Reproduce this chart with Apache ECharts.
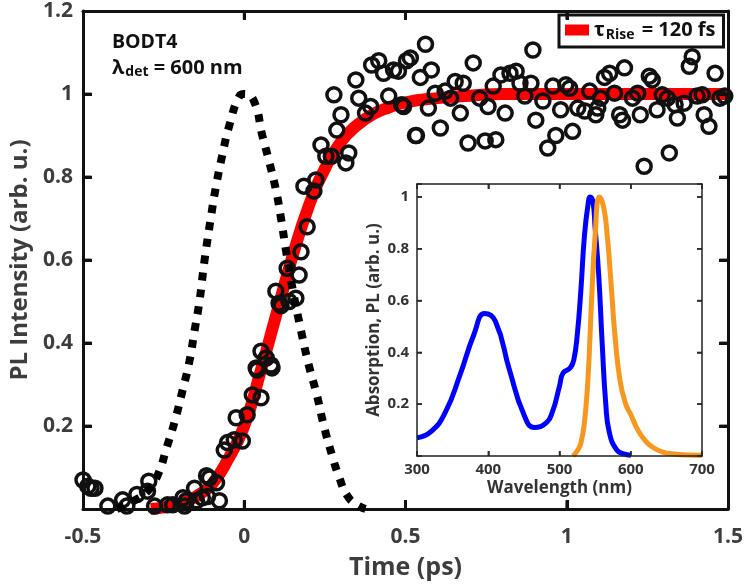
<!DOCTYPE html>
<html>
<head>
<meta charset="utf-8">
<script src="https://cdn.jsdelivr.net/npm/echarts@6/dist/echarts.min.js"></script>
<style>html,body{margin:0;padding:0;background:#fff;}#c{width:747px;height:585px;}</style>
</head>
<body>
<div id="c"></div>
<script>
// ---- main panel data ----
const timeTicks = [-0.5, 0, 0.5, 1, 1.5];
const intensityTicks = [0.2, 0.4, 0.6, 0.8, 1, 1.2];
const plPoints = [
  [-0.5,0.07],[-0.485,0.055],[-0.475,0.05],[-0.463,0.05],[-0.423,0.007],[-0.377,0.022],[-0.364,0.007],
  [-0.333,0.035],[-0.296,0.067],[-0.30,0.043],[-0.278,0.007],[-0.238,0.01],[-0.222,0.01],[-0.19,0.027],
  [-0.185,0.007],[-0.18,0.02],[-0.154,0.05],[-0.148,0.02],[-0.13,0.027],[-0.117,0.08],[-0.108,0.075],
  [-0.114,0.03],[-0.086,0.063],[-0.077,0.02],[-0.062,0.142],[-0.052,0.16],[-0.031,0.167],[-0.006,0.164],
  [-0.025,0.22],[0.009,0.227],[0.025,0.275],[0.052,0.268],
  [0.04,0.335],[0.037,0.34],[0.052,0.38],[0.068,0.364],[0.083,0.347],[0.086,0.34],[0.098,0.525],
  [0.108,0.496],[0.114,0.49],[0.139,0.5],[0.16,0.508],[0.133,0.58],[0.17,0.564],[0.176,0.62],
  [0.195,0.68],[0.185,0.778],[0.216,0.766],[0.222,0.793],[0.238,0.877],[0.253,0.85],[0.27,0.85],
  [0.324,0.858],[0.315,0.834],[0.287,0.913],[0.30,0.95],[0.278,0.998],[0.346,1.034],[0.355,0.99],
  [0.376,0.954],[0.392,0.97],[0.395,1.07],[0.417,1.08],[0.432,1.05],[0.448,0.995],[0.463,1.058],
  [0.478,1.055],[0.494,0.97],[0.503,1.08],[0.531,0.9],
  [0.562,1.12],[0.515,1.087],[0.58,1.058],[0.546,1.04],[0.488,0.974],[0.534,0.9],[0.571,0.966],
  [0.608,0.918],[0.592,1.002],[0.623,1.007],[0.654,1.03],[0.679,1.026],[0.67,0.954],[0.64,0.99],
  [0.694,0.882],[0.71,1.075],[0.73,0.99],[0.747,0.887],[0.78,0.89],[0.756,0.97],[0.772,1.019],
  [0.796,1.046],[0.809,0.954],[0.824,1.05],[0.843,1.055],[0.855,1.026],[0.87,0.995],[0.889,1.026],
  [0.895,1.106],[0.904,0.937],[0.926,0.983],[0.941,0.87],[0.966,0.9],[1.018,0.91],[0.957,1.019],
  [0.981,0.962],[0.997,1.022],[1.009,1.014],[1.034,0.966],[1.056,0.959],[1.071,1.007],[1.09,0.95],
  [1.096,0.966],[1.105,0.99],[1.117,1.04],[1.133,1.05],[1.148,1.002],[1.164,0.95],[1.173,0.937],
  [1.179,1.063],[1.204,0.99],[1.22,1.002],[1.228,0.95],[1.24,0.826],[1.256,1.043],[1.265,1.034],
  [1.28,0.962],[1.296,0.998],[1.318,0.858],[1.312,0.99],[1.336,0.974],[1.343,0.942],[1.364,0.978],
  [1.38,1.067],[1.389,1.09],[1.404,0.995],[1.42,0.998],[1.426,0.95],[1.441,0.922],[1.46,1.05],
  [1.475,0.99],[1.49,0.995]
];
const fitX = [-0.29,-0.25,-0.2,-0.15,-0.1,-0.05,0,0.05,0.1,0.15,0.2,0.25,0.3,0.35,0.4,0.45,0.5,0.6,0.7,0.8,1.0,1.2,1.5];
const fitY = [0,0.004,0.012,0.03,0.06,0.12,0.2,0.33,0.47,0.61,0.73,0.82,0.885,0.925,0.952,0.968,0.98,0.99,0.996,1.0,1.0,1.0,1.0];
const pumpX = [-0.395,-0.346,-0.3,-0.268,-0.241,-0.216,-0.19,-0.17,-0.154,-0.139,-0.123,-0.102,-0.087,-0.068,-0.046,-0.015,0,0.03,0.056,0.077,0.099,0.114,0.13,0.15,0.176,0.2,0.225,0.247,0.272,0.295,0.318,0.345,0.376];
const pumpY = [0,0.018,0.043,0.082,0.147,0.21,0.29,0.356,0.43,0.5,0.6,0.71,0.78,0.853,0.925,0.995,1.0,0.983,0.9,0.838,0.766,0.7,0.62,0.53,0.43,0.347,0.275,0.2,0.13,0.075,0.034,0.012,0];
// ---- inset data ----
const wlTicks = [300, 400, 500, 600, 700];
const insetYTicks = [0.2, 0.4, 0.6, 0.8, 1];
const absX = [300,320,340,360,380,395,410,430,450,465,480,490,500,505,515,520,525,530,535,540,543,547,550,555,560,565,570,580,590,600];
const absY = [0.07,0.095,0.17,0.31,0.47,0.55,0.52,0.33,0.16,0.11,0.125,0.17,0.27,0.32,0.34,0.37,0.47,0.64,0.85,0.97,1.0,0.98,0.88,0.7,0.43,0.2,0.09,0.025,0.008,0.003];
const plX = [519,525,530,535,540,545,550,556,562,567,572,578,585,593,600,610,620,630,645,660,680,700];
const plY = [0,0.02,0.05,0.13,0.3,0.6,0.85,1.0,0.96,0.85,0.68,0.46,0.29,0.2,0.16,0.1,0.06,0.035,0.015,0.008,0.004,0.003];

const zip = (xs, ys) => xs.map((x, i) => [x, ys[i]]);
const FONT = 'Open Sans';
const LABEL = '#3d3d3d';

const chart = echarts.init(document.getElementById('c'), null, {renderer: 'canvas'});
const mainYFmt = v => (v > 1e-6 && intensityTicks.some(t => Math.abs(t - v) < 1e-6)) ? String(+v.toFixed(1)) : '';
const insetYFmt = v => (v > 1e-6 && Math.abs(v * 5 - Math.round(v * 5)) < 1e-6) ? String(+v.toFixed(1)) : '';
const mainLine = {show: true, onZero: false, lineStyle: {color: '#111', width: 3}};
const insetLine = {show: true, onZero: false, lineStyle: {color: '#222', width: 1.5}};
const hidden = {show: false};
const mainTick = {show: true, inside: true, length: 9, lineStyle: {color: '#111', width: 3}};
const insetTick = {show: true, inside: true, length: 5, lineStyle: {color: '#222', width: 1.5}};

// inner tick marks (mirrored on all four sides), placed through the axes' own scales
const innerT = timeTicks.slice(1, -1);
const innerI = intensityTicks.slice(0, -1);
const innerW = wlTicks.slice(1, -1);
const tickSeries = (xi, yi, data, size, offset, color) => ({
  type: 'scatter', xAxisIndex: xi, yAxisIndex: yi, data, symbol: 'rect', symbolSize: size,
  symbolOffset: offset, itemStyle: {color}, silent: true, z: 9, clip: false
});

chart.setOption({
  animation: false,
  backgroundColor: '#fff',
  grid: [
    {left: 83, top: 11, width: 645, height: 503, show: false},
    {left: 417, top: 184, width: 285, height: 272, show: true, borderWidth: 0, backgroundColor: '#fff', z: 5}
  ],
  xAxis: [
    {gridIndex: 0, type: 'value', min: -0.5, max: 1.5, interval: 0.5, position: 'bottom',
     axisLine: mainLine, splitLine: hidden, axisTick: mainTick, z: 4,
     axisLabel: {fontFamily: FONT, fontWeight: 'bold', fontSize: 21, color: LABEL, margin: 18},
     name: 'Time (ps)', nameLocation: 'middle', nameGap: 46,
     nameTextStyle: {fontFamily: FONT, fontWeight: 'bold', fontSize: 25, color: LABEL}},
    {gridIndex: 0, type: 'value', min: -0.5, max: 1.5, interval: 0.5, position: 'top', z: 4,
     axisLine: mainLine, splitLine: hidden, axisTick: mainTick, axisLabel: hidden},
    {gridIndex: 1, type: 'value', min: 300, max: 700, interval: 100, position: 'bottom',
     axisLine: insetLine, splitLine: hidden, axisTick: insetTick, z: 8,
     axisLabel: {fontFamily: FONT, fontWeight: 'bold', fontSize: 15, color: '#333', margin: 6},
     name: 'Wavelength (nm)', nameLocation: 'middle', nameGap: 24,
     nameTextStyle: {fontFamily: FONT, fontWeight: 'bold', fontSize: 17, color: '#333'}},
    {gridIndex: 1, type: 'value', min: 300, max: 700, interval: 100, position: 'top',
     axisLine: insetLine, splitLine: hidden, axisTick: insetTick, z: 8, axisLabel: hidden}
  ],
  yAxis: [
    {gridIndex: 0, type: 'value', min: 0, max: 1.2, interval: 0.2, position: 'left',
     axisLine: mainLine, splitLine: hidden, axisTick: mainTick, z: 4,
     axisLabel: {fontFamily: FONT, fontWeight: 'bold', fontSize: 21, color: LABEL, margin: 10, formatter: mainYFmt},
     name: 'PL Intensity (arb. u.)', nameLocation: 'middle', nameGap: 37,
     nameTextStyle: {fontFamily: FONT, fontWeight: 'bold', fontSize: 24, color: LABEL}},
    {gridIndex: 0, type: 'value', min: 0, max: 1.2, interval: 0.2, position: 'right', z: 4,
     axisLine: mainLine, splitLine: hidden, axisTick: mainTick, axisLabel: hidden},
    {gridIndex: 1, type: 'value', min: 0, max: 1.05, interval: 0.2, position: 'left',
     axisLine: insetLine, splitLine: hidden, z: 8, axisTick: insetTick,
     axisLabel: {fontFamily: FONT, fontWeight: 'bold', fontSize: 15, color: '#333', margin: 8, formatter: insetYFmt},
     name: 'Absorption, PL (arb. u.)', nameLocation: 'middle', nameGap: 34,
     nameTextStyle: {fontFamily: FONT, fontWeight: 'bold', fontSize: 17, color: '#333'}},
    {gridIndex: 1, type: 'value', min: 0, max: 1.05, interval: 0.2, position: 'right',
     axisLine: insetLine, splitLine: hidden, z: 8, axisTick: insetTick, axisLabel: hidden}
  ],
  legend: {
    data: ['fit'], left: 559, top: 15, orient: 'horizontal',
    backgroundColor: '#fff', borderColor: '#111', borderWidth: 3, padding: [5, 8, 5, 6],
    icon: 'rect', itemWidth: 24, itemHeight: 11, itemGap: 0,
    formatter: () => '{t|τ}{s|Rise}{t| = 120 fs}',
    textStyle: {rich: {
      t: {fontFamily: FONT, fontWeight: 'bold', fontSize: 20, color: '#111'},
      s: {fontFamily: FONT, fontWeight: 'bold', fontSize: 14, color: '#111', verticalAlign: 'bottom', padding: [10, 2, 0, 1]}
    }}
  },
  graphic: [
    {type: 'text', left: 112, top: 32, style: {text: 'BODT4', fontFamily: FONT, fontWeight: 'bold', fontSize: 19.5, fill: '#111'}},
    {type: 'text', left: 112, top: 58, style: {
      text: '{a|λ}{b|det}{a| = 600 nm}',
      rich: {
        a: {fontFamily: FONT, fontWeight: 'bold', fontSize: 20, fill: '#111', color: '#111'},
        b: {fontFamily: FONT, fontWeight: 'bold', fontSize: 14, fill: '#111', color: '#111', padding: [9, 0, 0, 1]}
      }}}
  ],
  series: [
    {name: 'fit', type: 'line', xAxisIndex: 0, yAxisIndex: 0, data: zip(fitX, fitY), smooth: true,
     showSymbol: false, lineStyle: {color: '#ff0000', width: 12}, itemStyle: {color: '#ff0000'}, z: 2},
    {name: 'data', type: 'scatter', xAxisIndex: 0, yAxisIndex: 0, data: plPoints, symbol: 'circle', symbolSize: 14,
     itemStyle: {color: 'rgba(0,0,0,0)', borderColor: '#111', borderWidth: 3.5, opacity: 1}, z: 3},
    {name: 'pump', type: 'line', xAxisIndex: 0, yAxisIndex: 0, data: zip(pumpX, pumpY), smooth: true,
     showSymbol: false, lineStyle: {color: '#000', width: 8, type: [8, 9]}, z: 4},
    {name: 'abs', type: 'line', xAxisIndex: 2, yAxisIndex: 2, data: zip(absX, absY), smooth: true,
     showSymbol: false, lineStyle: {color: '#0000ff', width: 5}, z: 7},
    {name: 'pl', type: 'line', xAxisIndex: 2, yAxisIndex: 2, data: zip(plX, plY), smooth: true,
     showSymbol: false, lineStyle: {color: '#f7971e', width: 5}, z: 7},
    tickSeries(0, 0, innerT.map(t => [t, 0]), [3, 9], [0, -4], '#111'),
    tickSeries(0, 0, innerT.map(t => [t, 1.2]), [3, 9], [0, 4], '#111'),
    tickSeries(0, 0, innerI.map(v => [-0.5, v]), [9, 3], [4, 0], '#111'),
    tickSeries(0, 0, innerI.map(v => [1.5, v]), [9, 3], [-4, 0], '#111'),
    Object.assign(tickSeries(2, 2, innerW.map(w => [w, 0]), [1.5, 5], [0, -2.5], '#222'), {z: 10}),
    Object.assign(tickSeries(2, 2, innerW.map(w => [w, 1.05]), [1.5, 5], [0, 2.5], '#222'), {z: 10}),
    Object.assign(tickSeries(2, 2, insetYTicks.map(v => [300, v]), [5, 1.5], [2.5, 0], '#222'), {z: 10}),
    Object.assign(tickSeries(2, 2, insetYTicks.map(v => [700, v]), [5, 1.5], [-2.5, 0], '#222'), {z: 10})
  ]
});
</script>
</body>
</html>
